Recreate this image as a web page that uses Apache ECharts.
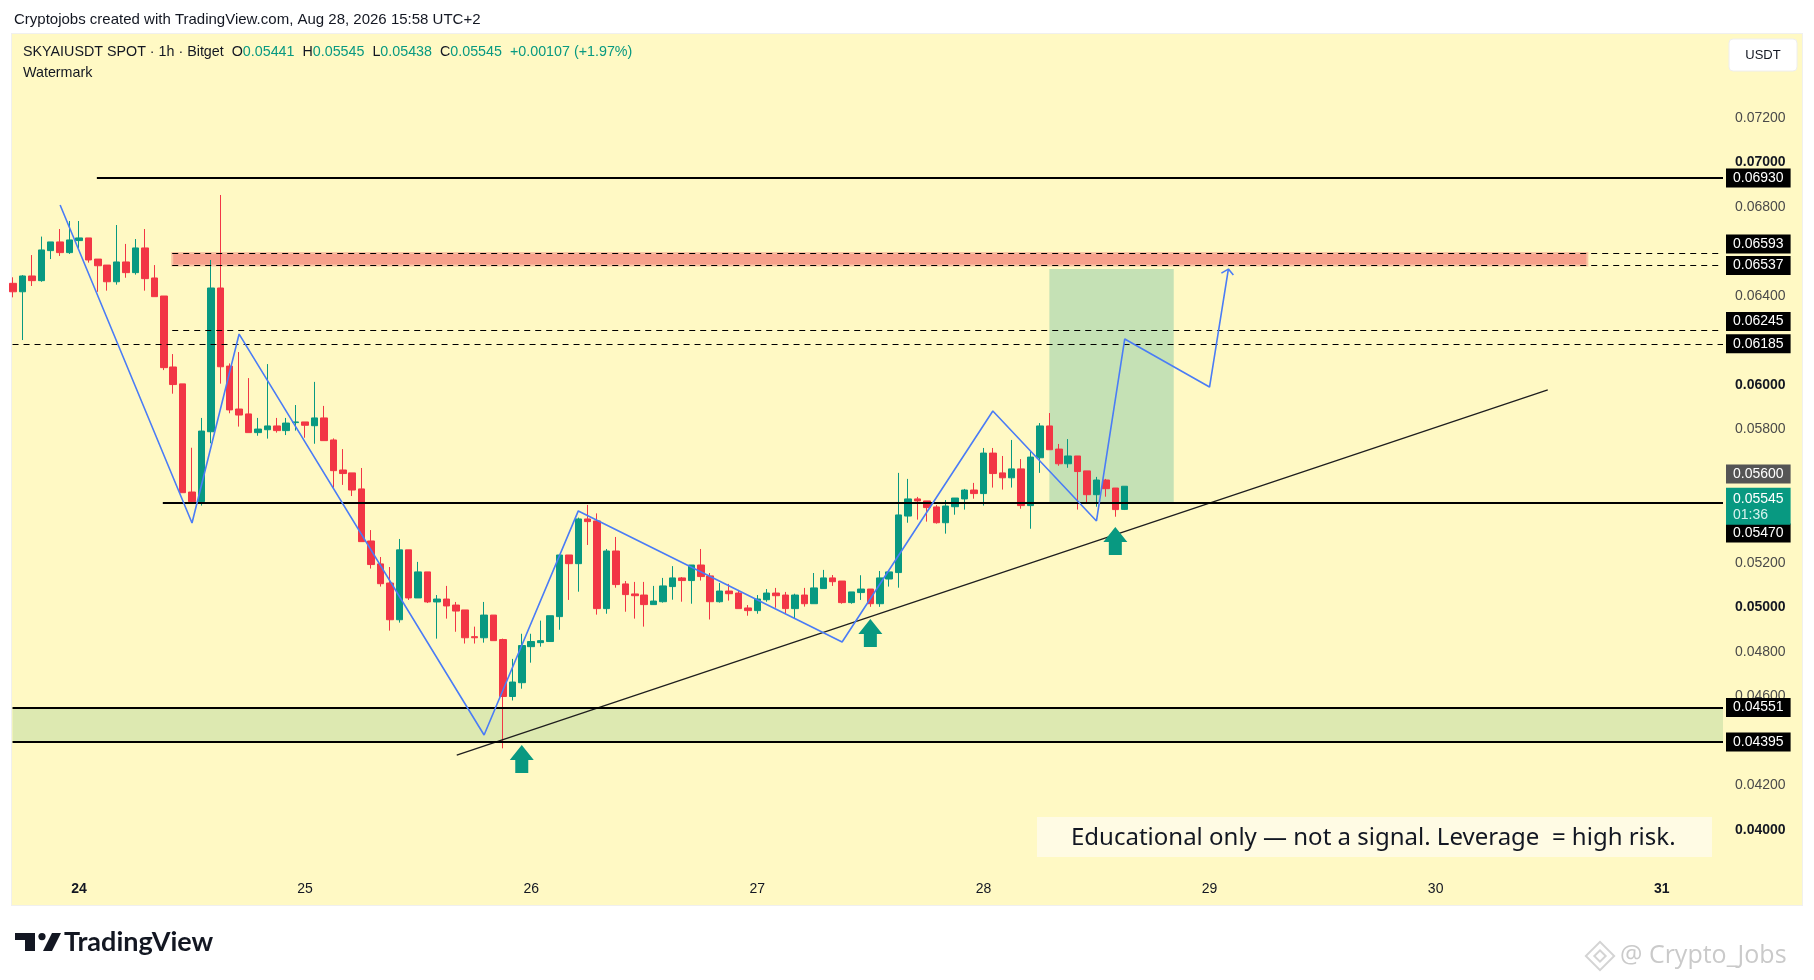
<!DOCTYPE html>
<html>
<head>
<meta charset="utf-8">
<title>SKYAIUSDT 1h</title>
<script src="https://cdn.jsdelivr.net/npm/echarts@6/dist/echarts.min.js"></script>
<style>
  html, body { margin: 0; padding: 0; background: #fff; }
  #chart { width: 1814px; height: 980px; }
</style>
</head>
<body>
<div id="chart"></div>
<script>
// hourly candles, 23 Aug 17:00 -> 28 Aug 15:00
var opens = [
  0.06457, 0.06419, 0.06490, 0.06469, 0.06604, 0.06643, 0.06595, 0.06649, 0.06661, 0.06566,
  0.06539, 0.06464, 0.06553, 0.06505, 0.06616, 0.06481, 0.06400, 0.06081, 0.06005, 0.05519,
  0.05476, 0.05790, 0.06436, 0.06085, 0.05892, 0.05870, 0.05786, 0.05799, 0.05816, 0.05795,
  0.05831, 0.05834, 0.05817, 0.05852, 0.05753, 0.05618, 0.05605, 0.05533, 0.05299, 0.05196,
  0.05110, 0.04945, 0.05259, 0.05043, 0.05160, 0.05025, 0.05038, 0.05011, 0.04989, 0.04869,
  0.04864, 0.04966, 0.04856, 0.04600, 0.04662, 0.04824, 0.04842, 0.04847, 0.04959, 0.05236,
  0.05197, 0.05398, 0.05389, 0.04995, 0.05254, 0.05106, 0.05061, 0.05056, 0.05013, 0.05026,
  0.05094, 0.05133, 0.05121, 0.05191, 0.05142, 0.05026, 0.05074, 0.05065, 0.04998, 0.04986,
  0.05035, 0.05065, 0.05056, 0.04995, 0.05056, 0.05017, 0.05085, 0.05133, 0.05119, 0.05022,
  0.05067, 0.05083, 0.05017, 0.05128, 0.05157, 0.05411, 0.05488, 0.05479, 0.05452, 0.05381,
  0.05453, 0.05488, 0.05528, 0.05512, 0.05694, 0.05605, 0.05583, 0.05623, 0.05458, 0.05673,
  0.05816, 0.05712, 0.05646, 0.05681, 0.05614, 0.05507, 0.05573, 0.05537, 0.05441
]
var closes = [
  0.06419, 0.06490, 0.06469, 0.06607, 0.06643, 0.06595, 0.06652, 0.06661, 0.06562, 0.06536,
  0.06464, 0.06553, 0.06505, 0.06616, 0.06478, 0.06397, 0.06078, 0.06002, 0.05516, 0.05476,
  0.05793, 0.06436, 0.06082, 0.05888, 0.05865, 0.05786, 0.05802, 0.05816, 0.05795, 0.05829,
  0.05834, 0.05819, 0.05852, 0.05750, 0.05615, 0.05602, 0.05528, 0.05296, 0.05193, 0.05107,
  0.04945, 0.05259, 0.05043, 0.05160, 0.05025, 0.05038, 0.05007, 0.04984, 0.04864, 0.04864,
  0.04966, 0.04851, 0.04600, 0.04665, 0.04829, 0.04847, 0.04851, 0.04963, 0.05236, 0.05197,
  0.05398, 0.05386, 0.04995, 0.05254, 0.05103, 0.05058, 0.05053, 0.05013, 0.05029, 0.05097,
  0.05133, 0.05121, 0.05191, 0.05139, 0.05026, 0.05074, 0.05062, 0.04995, 0.04986, 0.05038,
  0.05065, 0.05053, 0.04995, 0.05056, 0.05017, 0.05088, 0.05133, 0.05116, 0.05022, 0.05070,
  0.05083, 0.05017, 0.05133, 0.05160, 0.05416, 0.05488, 0.05479, 0.05449, 0.05381, 0.05456,
  0.05492, 0.05528, 0.05512, 0.05694, 0.05602, 0.05583, 0.05623, 0.05458, 0.05676, 0.05816,
  0.05709, 0.05646, 0.05681, 0.05611, 0.05507, 0.05573, 0.05534, 0.05440, 0.05545
]
var highs = [
  0.06484, 0.06494, 0.06584, 0.06667, 0.06643, 0.06701, 0.06737, 0.06737, 0.06661, 0.06566,
  0.06539, 0.06719, 0.06634, 0.06656, 0.06701, 0.06539, 0.06400, 0.06139, 0.06005, 0.05718,
  0.05852, 0.06562, 0.06854, 0.06097, 0.06148, 0.06031, 0.05852, 0.06094, 0.05852, 0.05852,
  0.05910, 0.05834, 0.06014, 0.05906, 0.05760, 0.05712, 0.05605, 0.05627, 0.05348, 0.05227,
  0.05182, 0.05308, 0.05259, 0.05205, 0.05160, 0.05056, 0.05097, 0.05025, 0.04989, 0.04914,
  0.05025, 0.04966, 0.04860, 0.04769, 0.04882, 0.04882, 0.04941, 0.04963, 0.05236, 0.05236,
  0.05404, 0.05461, 0.05423, 0.05263, 0.05317, 0.05119, 0.05115, 0.05115, 0.05097, 0.05133,
  0.05186, 0.05137, 0.05191, 0.05263, 0.05155, 0.05110, 0.05106, 0.05079, 0.05011, 0.05056,
  0.05083, 0.05088, 0.05070, 0.05062, 0.05088, 0.05155, 0.05169, 0.05146, 0.05119, 0.05070,
  0.05145, 0.05083, 0.05164, 0.05160, 0.05605, 0.05578, 0.05497, 0.05479, 0.05461, 0.05483,
  0.05492, 0.05533, 0.05560, 0.05717, 0.05717, 0.05681, 0.05753, 0.05667, 0.05703, 0.05829,
  0.05874, 0.05735, 0.05757, 0.05681, 0.05614, 0.05587, 0.05578, 0.05537, 0.05545
]
var lows = [
  0.06394, 0.06202, 0.06445, 0.06464, 0.06566, 0.06580, 0.06589, 0.06614, 0.06550, 0.06419,
  0.06424, 0.06451, 0.06482, 0.06496, 0.06424, 0.06397, 0.06067, 0.05961, 0.05516, 0.05471,
  0.05458, 0.05738, 0.06006, 0.05873, 0.05813, 0.05786, 0.05772, 0.05759, 0.05786, 0.05775,
  0.05795, 0.05763, 0.05736, 0.05750, 0.05539, 0.05551, 0.05501, 0.05296, 0.05175, 0.05094,
  0.04896, 0.04932, 0.05034, 0.05043, 0.05020, 0.04860, 0.04950, 0.04891, 0.04838, 0.04838,
  0.04842, 0.04851, 0.04367, 0.04582, 0.04635, 0.04752, 0.04824, 0.04847, 0.04900, 0.05034,
  0.05071, 0.05281, 0.04968, 0.04972, 0.05089, 0.04981, 0.04950, 0.04914, 0.05013, 0.05022,
  0.05035, 0.05026, 0.05017, 0.05121, 0.04946, 0.05022, 0.05031, 0.04995, 0.04963, 0.04972,
  0.05026, 0.04999, 0.04972, 0.04950, 0.05004, 0.05017, 0.05085, 0.05097, 0.05017, 0.05017,
  0.05034, 0.05003, 0.05003, 0.05094, 0.05089, 0.05381, 0.05395, 0.05386, 0.05377, 0.05332,
  0.05417, 0.05440, 0.05489, 0.05458, 0.05539, 0.05530, 0.05539, 0.05444, 0.05354, 0.05605,
  0.05709, 0.05637, 0.05628, 0.05440, 0.05467, 0.05453, 0.05498, 0.05408, 0.05438
]

var firstDay = 23      // first candle: 23 Aug
var firstHour = 17     // ... at 17:00
var slotCount = 182    // hourly slots across the plot (incl. empty future)
var weekStarts = ['24', '31']

var yTicks = ['0.04000', '0.04200', '0.04600', '0.04800', '0.05000', '0.05200', '0.05800',
              '0.06000', '0.06400', '0.06800', '0.07000', '0.07200']
var boldTicks = ['0.04000', '0.05000', '0.06000', '0.07000']

// drawn levels
var solidLevels = [0.06930, 0.05470, 0.04551, 0.04395]
var solidFrom = [8.9, 15.9, -0.05, -0.05]
var dashedLevels = [0.06593, 0.06537, 0.06245, 0.06185]
var dashedFrom = [16.9, 16.9, 16.9, -0.05]
var labelShift = { '0.06593': -9, '0.06245': -9, '0.05470': 30 }
var highMark = 0.05600
var countdown = '01:36'
var legendChange = '+0.00107 (+1.97%)'

// zones [x0, x1], [y0, y1]
var resistX = [16.9, 167.1], resistY = [0.06537, 0.06593]
var supportY = [0.04395, 0.04551]
var targetX = [110, 123.2], targetY = [0.05470, 0.06521]

// drawings (slot index, price)
var zigzagX = [5, 19, 24, 50, 60, 88, 104, 115, 118, 127, 129]
var zigzagY = [0.06809, 0.05380, 0.06229, 0.04427, 0.05434, 0.04845, 0.05883, 0.05389, 0.06207, 0.05991, 0.06521]
var headX = [128.26, 129, 129.53]
var headY = [0.06503, 0.06521, 0.06494]
var trendX = [47.1, 162.9]
var trendY = [0.04337, 0.05978]
var arrowX = [54, 91, 117]
var arrowY = [0.04319, 0.04885, 0.05299]

var UP = '#089981', DOWN = '#f23645'
var FONT = 'Liberation Sans'
var CLEAR = 'rgba(0,0,0,0)'

var hours = []
for (var i = 0; i < slotCount; i++) {
  var h = firstHour + i
  hours.push((firstDay + Math.floor(h / 24)) + ' ' + ('0' + (h % 24)).slice(-2) + ':00')
}
var ohlc = opens.map(function (o, i) { return [o, closes[i], lows[i], highs[i]] })
function pairs(xs, ys) { return xs.map(function (x, i) { return [x, ys[i]] }) }
var xEnd = slotCount - 0.5

function levelLabel(v, bg) {
  var s = v.toFixed(5)
  return {
    show: true, position: 'end', distance: 3, formatter: s,
    backgroundColor: bg || '#000', color: '#fff', padding: [3, 7, 2, 7],
    fontSize: 14, fontFamily: FONT, offset: [0, labelShift[s] || 0]
  }
}

var lines = []
solidLevels.forEach(function (v, i) {
  lines.push([{ coord: [solidFrom[i], v], lineStyle: { type: 'solid', width: 2, color: '#000' }, label: levelLabel(v) },
              { coord: [xEnd, v] }])
})
dashedLevels.forEach(function (v, i) {
  lines.push([{ coord: [dashedFrom[i], v], lineStyle: { type: [6, 5], width: 1, color: '#000' }, label: levelLabel(v) },
              { coord: [xEnd, v] }])
})
lines.push([{ coord: [xEnd - 0.2, highMark], lineStyle: { color: CLEAR, width: 1 }, label: levelLabel(highMark, '#555555') },
            { coord: [xEnd, highMark] }])
var last = closes[closes.length - 1]
lines.push([{
  coord: [xEnd - 0.2, last], lineStyle: { color: CLEAR, width: 1 },
  label: {
    show: true, position: 'end', distance: 3, offset: [0, 20],
    formatter: '{p|' + last.toFixed(5) + '}\n{t|' + countdown + '}',
    backgroundColor: UP, padding: [3, 7, 2, 7],
    rich: {
      p: { color: '#fff', fontSize: 14, fontFamily: FONT, lineHeight: 16 },
      t: { color: '#d8f3ee', fontSize: 14, fontFamily: FONT, lineHeight: 16 }
    }
  }
}, { coord: [xEnd, last] }])

var chart = echarts.init(document.getElementById('chart'))
chart.setOption({
  animation: false,
  backgroundColor: '#ffffff',
  grid: { left: 8.3, right: 91, top: 29, bottom: 105.5 },
  xAxis: [{
    type: 'category', data: hours, boundaryGap: true,
    axisLine: { show: false }, axisTick: { show: false }, splitLine: { show: false },
    axisLabel: {
      margin: 8, fontSize: 14, color: '#131722', fontFamily: FONT,
      interval: function (idx, val) { return val.slice(-5) === '00:00' },
      formatter: function (val) {
        var d = val.split(' ')[0]
        return weekStarts.indexOf(d) >= 0 ? '{b|' + d + '}' : d
      },
      rich: { b: { fontWeight: 'bold', fontSize: 14, color: '#131722', fontFamily: FONT } }
    }
  }, {
    type: 'value', min: -0.5, max: xEnd, show: false
  }],
  yAxis: {
    type: 'value', position: 'right', min: 0.038, max: 0.076, interval: 0.002,
    axisLine: { show: false }, axisTick: { show: false }, splitLine: { show: false },
    axisLabel: {
      margin: 12, fontSize: 14, color: '#4a4a4a', fontFamily: FONT,
      formatter: function (v) {
        var s = v.toFixed(5)
        if (yTicks.indexOf(s) < 0) return ''
        return boldTicks.indexOf(s) >= 0 ? '{b|' + s + '}' : s
      },
      rich: { b: { fontWeight: 'bold', fontSize: 14, color: '#131722', fontFamily: FONT } }
    }
  },
  series: [{
    name: 'zones', type: 'line', xAxisIndex: 1, data: [], z: 1, silent: true,
    markArea: {
      silent: true,
      data: [
        [{ coord: [resistX[0], resistY[1]], itemStyle: { color: '#f7a08b', borderColor: '#fac6a5', borderWidth: 2 } },
         { coord: [resistX[1], resistY[0]] }],
        [{ coord: [-0.05, supportY[1]], itemStyle: { color: '#dde9b1' } }, { coord: [xEnd, supportY[0]] }],
        [{ coord: [targetX[0], targetY[1]], itemStyle: { color: '#c5e1b5' } }, { coord: [targetX[1], targetY[0]] }]
      ]
    }
  }, {
    name: 'SKYAIUSDT', type: 'candlestick', data: ohlc, barWidth: 7, z: 2,
    itemStyle: { color: UP, color0: DOWN, borderColor: UP, borderColor0: DOWN, borderWidth: 1 }
  }, {
    name: 'levels', type: 'line', xAxisIndex: 1, data: [], z: 4, silent: true,
    markLine: { silent: true, symbol: ['none', 'none'], animation: false, data: lines }
  }, {
    name: 'trend', type: 'line', xAxisIndex: 1, data: pairs(trendX, trendY), z: 4,
    symbol: 'none', lineStyle: { color: '#1e1e1e', width: 1.3 }
  }, {
    name: 'path', type: 'line', xAxisIndex: 1, data: pairs(zigzagX, zigzagY), z: 5,
    symbol: 'none', lineStyle: { color: '#4a7cf6', width: 1.6 }
  }, {
    name: 'head', type: 'line', xAxisIndex: 1, data: pairs(headX, headY), z: 5,
    symbol: 'none', lineStyle: { color: '#4a7cf6', width: 1.6 }
  }, {
    name: 'arrows', type: 'scatter', xAxisIndex: 1, data: pairs(arrowX, arrowY), z: 5,
    symbol: 'path://M12,0 L24,15 L18.5,15 L18.5,28 L5.5,28 L5.5,15 L0,15 Z',
    symbolSize: [24, 28], itemStyle: { color: UP, opacity: 1 }
  }],
  graphic: [
    { type: 'rect', z: -20, silent: true, shape: { x: 11, y: 33, width: 1792, height: 873 }, style: { fill: '#f0f0ee' } },
    { type: 'rect', z: -19, silent: true, shape: { x: 12, y: 34, width: 1790, height: 871 }, style: { fill: '#fff9c4' } },
    {
      type: 'text', left: 14, top: 12,
      style: { text: 'Cryptojobs created with TradingView.com, Aug 28, 2026 15:58 UTC+2', fontSize: 15, fontFamily: FONT, fill: '#131722' }
    },
    {
      type: 'text', left: 23, top: 45,
      style: {
        text: '{n|SKYAIUSDT SPOT · 1h · Bitget}  {n|O}{v|' + opens[opens.length - 1].toFixed(5) + '}  {n|H}{v|' +
          highs[highs.length - 1].toFixed(5) + '}  {n|L}{v|' + lows[lows.length - 1].toFixed(5) + '}  {n|C}{v|' +
          last.toFixed(5) + '}  {v|' + legendChange + '}',
        fontSize: 14.3, fontFamily: FONT,
        rich: {
          n: { fill: '#131722', fontSize: 14.3, fontFamily: FONT },
          v: { fill: UP, fontSize: 14.3, fontFamily: FONT }
        }
      }
    },
    { type: 'text', left: 23, top: 66, style: { text: 'Watermark', fontSize: 14.3, fontFamily: FONT, fill: '#131722' } },
    { type: 'rect', shape: { x: 1729, y: 39, width: 68, height: 32, r: 4 }, style: { fill: '#ffffff', stroke: '#eeeeee' } },
    { type: 'text', x: 1763, y: 55, style: { text: 'USDT', fontSize: 13, fontFamily: FONT, fill: '#131722', align: 'center', verticalAlign: 'middle' } },
    { type: 'rect', z: 10, shape: { x: 1037, y: 817, width: 675, height: 40 }, style: { fill: '#fffbe4' } },
    { type: 'text', z: 11, x: 1071, y: 838, style: { text: 'Educational only — not a signal. Leverage  = high risk.', fontSize: 24, fontFamily: 'Noto Sans', fill: '#131722', verticalAlign: 'middle' } },
    // TradingView logo
    {
      type: 'group', x: 15, y: 933, children: [
        { type: 'polygon', shape: { points: [[0, 0], [20, 0], [20, 18], [10, 18], [10, 7], [0, 7]] }, style: { fill: '#131722' } },
        { type: 'circle', shape: { cx: 27, cy: 3.6, r: 3.6 }, style: { fill: '#131722' } },
        { type: 'polygon', shape: { points: [[37, 0], [46, 0], [37, 18], [28, 18]] }, style: { fill: '#131722' } }
      ]
    },
    { type: 'text', x: 64, y: 942, style: { text: 'TradingView', fontSize: 27, fontWeight: 'bold', fontFamily: 'Lato', fill: '#131722', verticalAlign: 'middle' } },
    // watermark bottom right
    {
      type: 'group', x: 1600, y: 956, rotation: Math.PI / 4, children: [
        { type: 'rect', shape: { x: -10, y: -10, width: 20, height: 20 }, style: { fill: 'none', stroke: '#d4d4d4', lineWidth: 2 } },
        { type: 'rect', shape: { x: -4, y: -4, width: 8, height: 8 }, style: { fill: 'none', stroke: '#d4d4d4', lineWidth: 2 } }
      ]
    },
    { type: 'text', x: 1620, y: 956, style: { text: '@ Crypto_Jobs', fontSize: 25, fontFamily: 'Open Sans', fill: '#cacaca', verticalAlign: 'middle' } }
  ]
})
</script>
</body>
</html>
